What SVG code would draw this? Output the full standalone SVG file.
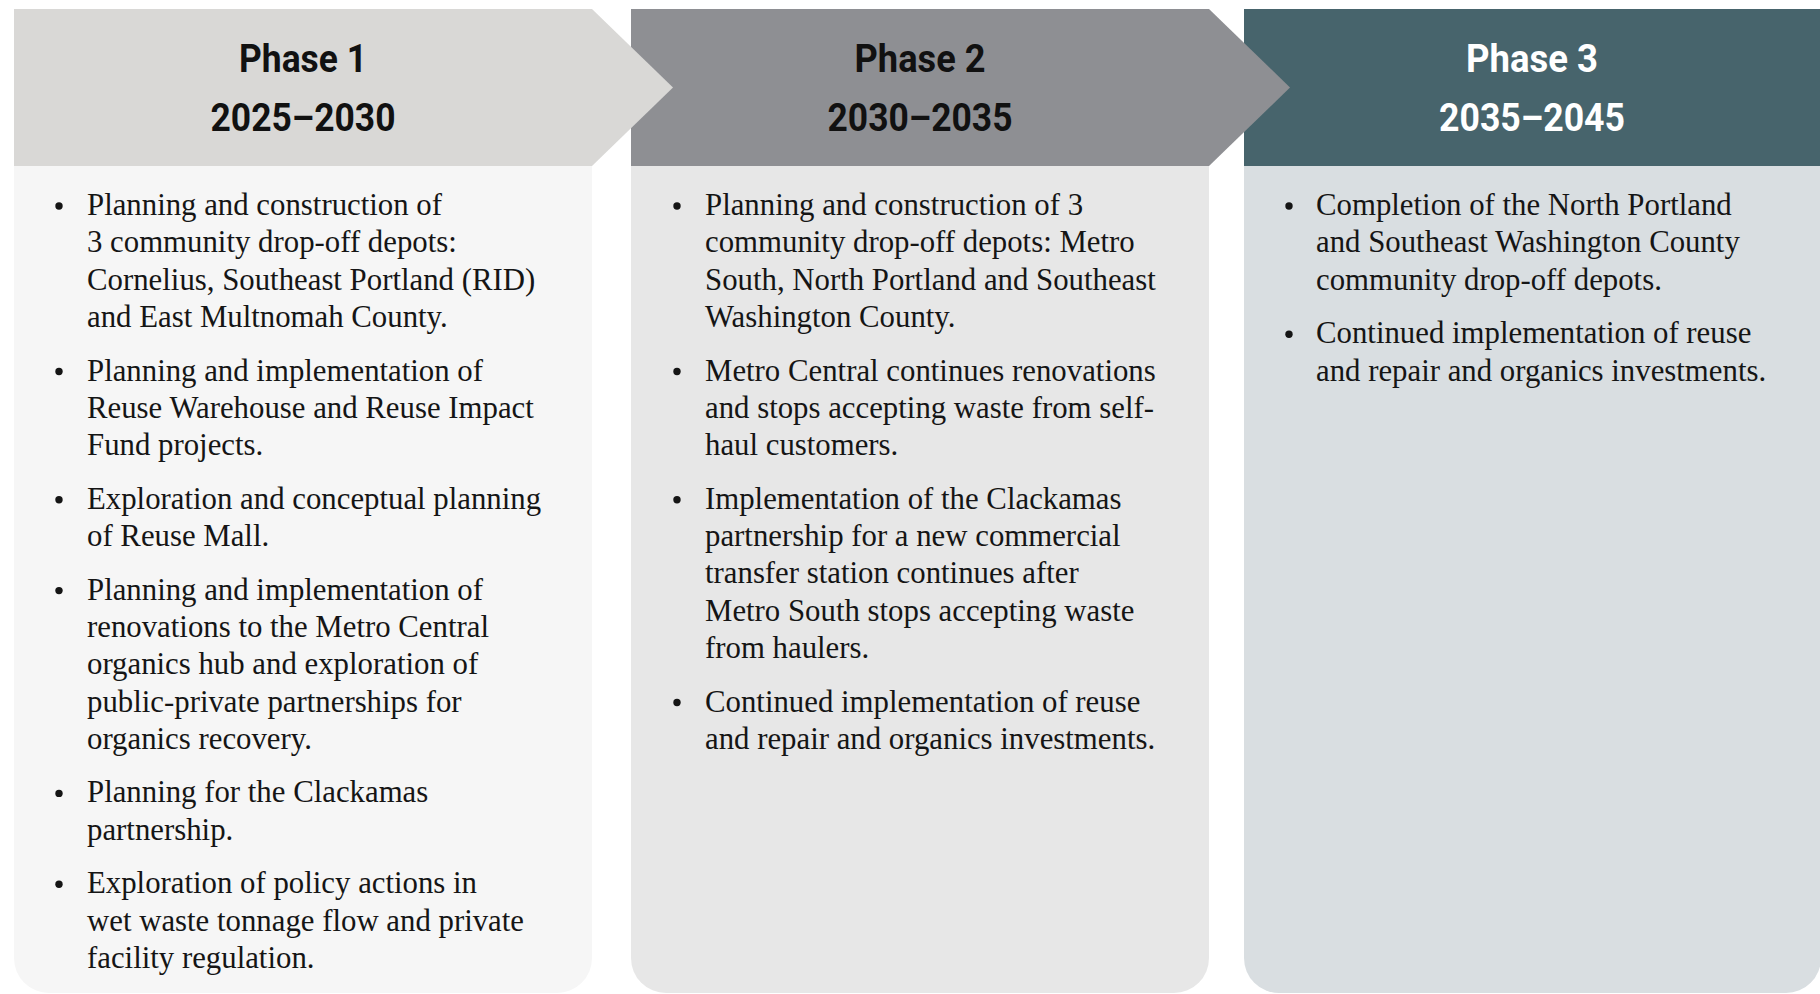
<svg xmlns="http://www.w3.org/2000/svg" width="1820" height="994" viewBox="0 0 1820 994">
<style>
.hd{font-family:Roboto,"Liberation Sans",sans-serif;font-weight:700;font-size:39px;text-anchor:middle}
.bd{font-family:"Liberation Serif",serif;font-size:30.8px;fill:#151515}
.dot{fill:#151515}
</style>
<rect width="1820" height="994" fill="#ffffff"/>
<g id="phase3">
<path d="M1244,166 H1821 V958 A35,35 0 0 1 1786,993 H1279 A35,35 0 0 1 1244,958 Z" fill="#D9DEE1"/>
<polygon points="1244,9 1821,9 1821,166 1244,166" fill="#47646C"/>
<text class="hd" x="1532" y="72" fill="#ffffff" textLength="132" lengthAdjust="spacingAndGlyphs">Phase 3</text>
<text class="hd" x="1532" y="131" fill="#ffffff" textLength="186" lengthAdjust="spacingAndGlyphs">2035–2045</text>
<circle class="dot" cx="1289" cy="206" r="3.7"/>
<text class="bd" x="1316" y="215">Completion of the North Portland</text>
<text class="bd" x="1316" y="252.3">and Southeast Washington County</text>
<text class="bd" x="1316" y="289.6">community drop-off depots.</text>
<circle class="dot" cx="1289" cy="334.2" r="3.7"/>
<text class="bd" x="1316" y="343.2">Continued implementation of reuse</text>
<text class="bd" x="1316" y="380.5">and repair and organics investments.</text>
</g>
<g id="phase2">
<path d="M631,166 H1209 V958 A35,35 0 0 1 1174,993 H666 A35,35 0 0 1 631,958 Z" fill="#E7E7E7"/>
<polygon points="631,9 1209,9 1290,87.5 1209,166 631,166" fill="#8E8F93"/>
<text class="hd" x="920" y="72" fill="#111111" textLength="131" lengthAdjust="spacingAndGlyphs">Phase 2</text>
<text class="hd" x="920" y="131" fill="#111111" textLength="185" lengthAdjust="spacingAndGlyphs">2030–2035</text>
<circle class="dot" cx="677" cy="206" r="3.7"/>
<text class="bd" x="705" y="215">Planning and construction of 3</text>
<text class="bd" x="705" y="252.3">community drop-off depots: Metro</text>
<text class="bd" x="705" y="289.6">South, North Portland and Southeast</text>
<text class="bd" x="705" y="326.9">Washington County.</text>
<circle class="dot" cx="677" cy="371.5" r="3.7"/>
<text class="bd" x="705" y="380.5">Metro Central continues renovations</text>
<text class="bd" x="705" y="417.8">and stops accepting waste from self-</text>
<text class="bd" x="705" y="455.1">haul customers.</text>
<circle class="dot" cx="677" cy="499.7" r="3.7"/>
<text class="bd" x="705" y="508.7">Implementation of the Clackamas</text>
<text class="bd" x="705" y="546">partnership for a new commercial</text>
<text class="bd" x="705" y="583.3">transfer station continues after</text>
<text class="bd" x="705" y="620.6">Metro South stops accepting waste</text>
<text class="bd" x="705" y="657.9">from haulers.</text>
<circle class="dot" cx="677" cy="702.5" r="3.7"/>
<text class="bd" x="705" y="711.5">Continued implementation of reuse</text>
<text class="bd" x="705" y="748.8">and repair and organics investments.</text>
</g>
<g id="phase1">
<path d="M14,166 H592 V958 A35,35 0 0 1 557,993 H49 A35,35 0 0 1 14,958 Z" fill="#F6F6F6"/>
<polygon points="14,9 592,9 673,87.5 592,166 14,166" fill="#D9D8D6"/>
<text class="hd" x="303" y="72" fill="#111111" textLength="128" lengthAdjust="spacingAndGlyphs">Phase 1</text>
<text class="hd" x="303" y="131" fill="#111111" textLength="185" lengthAdjust="spacingAndGlyphs">2025–2030</text>
<circle class="dot" cx="59" cy="206" r="3.7"/>
<text class="bd" x="87" y="215">Planning and construction of</text>
<text class="bd" x="87" y="252.3">3 community drop-off depots:</text>
<text class="bd" x="87" y="289.6">Cornelius, Southeast Portland (RID)</text>
<text class="bd" x="87" y="326.9">and East Multnomah County.</text>
<circle class="dot" cx="59" cy="371.5" r="3.7"/>
<text class="bd" x="87" y="380.5">Planning and implementation of</text>
<text class="bd" x="87" y="417.8">Reuse Warehouse and Reuse Impact</text>
<text class="bd" x="87" y="455.1">Fund projects.</text>
<circle class="dot" cx="59" cy="499.7" r="3.7"/>
<text class="bd" x="87" y="508.7">Exploration and conceptual planning</text>
<text class="bd" x="87" y="546">of Reuse Mall.</text>
<circle class="dot" cx="59" cy="590.6" r="3.7"/>
<text class="bd" x="87" y="599.6">Planning and implementation of</text>
<text class="bd" x="87" y="636.9">renovations to the Metro Central</text>
<text class="bd" x="87" y="674.2">organics hub and exploration of</text>
<text class="bd" x="87" y="711.5">public-private partnerships for</text>
<text class="bd" x="87" y="748.8">organics recovery.</text>
<circle class="dot" cx="59" cy="793.4" r="3.7"/>
<text class="bd" x="87" y="802.4">Planning for the Clackamas</text>
<text class="bd" x="87" y="839.7">partnership.</text>
<circle class="dot" cx="59" cy="884.3" r="3.7"/>
<text class="bd" x="87" y="893.3">Exploration of policy actions in</text>
<text class="bd" x="87" y="930.6">wet waste tonnage flow and private</text>
<text class="bd" x="87" y="967.9">facility regulation.</text>
</g>
</svg>
